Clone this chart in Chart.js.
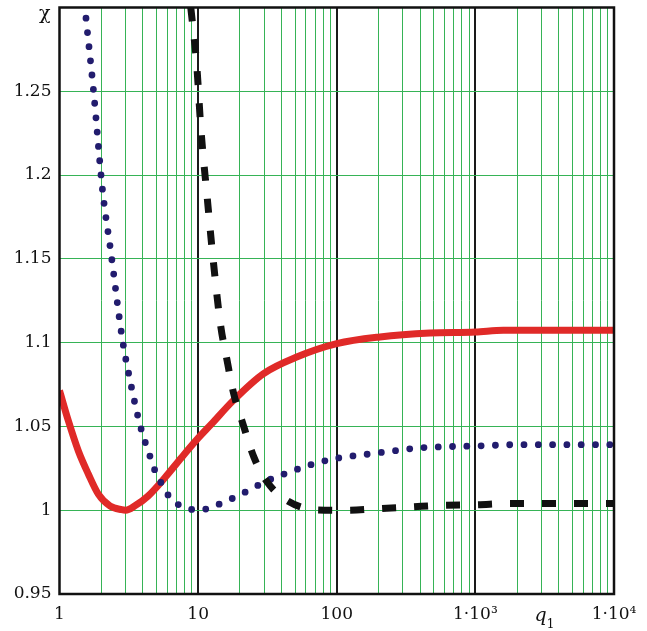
<!DOCTYPE html>
<html><head><meta charset="utf-8">
<script src="https://cdn.jsdelivr.net/npm/chart.js@4.4.1/dist/chart.umd.min.js"></script>
<style>html,body{margin:0;padding:0;background:#fff;}#wrap{width:647px;height:631px;position:relative;}</style>
</head><body><div id="wrap"><canvas id="c"></canvas></div>
<script>
// Red solid curve
const redQ   = [1, 1.157, 1.366, 1.614, 1.905, 2.31, 2.81, 3.0, 3.5, 4.37, 5.77, 7.6, 10, 12.5, 17.9, 29.5, 51.4, 100, 205, 471, 1000, 1590, 10000];
const redChi = [1.0714, 1.0535, 1.0355, 1.0216, 1.0096, 1.0026, 1.0003, 1.0, 1.0026, 1.0086, 1.0195, 1.0315, 1.043, 1.0515, 1.0654, 1.0814, 1.0914, 1.0994, 1.1034, 1.1057, 1.1063, 1.1074, 1.1074];
// Blue dotted curve
const blueQ   = [1.553, 1.754, 2.05, 2.34, 2.84, 3.26, 3.85, 4.5, 4.89, 5.55, 6.2, 7.12, 8.4, 10.4, 12.5, 15.6, 21.5, 31.3, 44.7, 67.1, 101.6, 155, 242, 382, 604, 1000, 1990, 10000];
const blueChi = [1.2936, 1.2515, 1.19, 1.1549, 1.1022, 1.0758, 1.0495, 1.0321, 1.0235, 1.0146, 1.008, 1.0036, 1.001, 1.0, 1.002, 1.005, 1.0105, 1.0175, 1.0225, 1.0275, 1.0311, 1.0331, 1.0351, 1.0371, 1.0379, 1.0383, 1.0391, 1.0391];
// Black dashed curve
const blackQ   = [8.85, 9.77, 10.49, 11.59, 12.88, 14.56, 16.09, 17.95, 20.98, 25.3, 31.3, 44.1, 72.9, 118, 206, 344, 592, 984, 1750, 10000];
const blackChi = [1.30, 1.2656, 1.2267, 1.1878, 1.1483, 1.1098, 1.0904, 1.0704, 1.0519, 1.0315, 1.0171, 1.0056, 1.0002, 1.0, 1.001, 1.002, 1.003, 1.0032, 1.004, 1.004];

// Axis ticks
const xDecades = [1, 10, 100, 1000, 10000];
const xTickLabels = ['1', '10', '100', '1\u00B710\u00B3', '1\u00B710\u2074'];
const yTickValues = [0.95, 1, 1.05, 1.1, 1.15, 1.2, 1.25, 1.3];
const yTickLabels = ['0.95', '1', '1.05', '1.1', '1.15', '1.2', '1.25', ''];
const yTitle = '\u03C7';
const xTitle = 'q';
const xTitleSub = '1';

const SERIF = '"DejaVu Serif", "Liberation Serif", serif';
const GREEN = '#36b356';

function pts(q, v) { return q.map((x, i) => ({x: x, y: v[i]})); }

const xTickValues = [];
for (let d = 0; d < xDecades.length - 1; d++) {
  for (let m = 1; m < 10; m++) xTickValues.push(xDecades[d] * m);
}
xTickValues.push(xDecades[xDecades.length - 1]);

const overlay = {
  id: 'overlay',
  afterDatasetsDraw(chart) {
    const {ctx, chartArea: a} = chart;
    ctx.save();
    ctx.strokeStyle = '#111';
    ctx.lineWidth = 2.5;
    ctx.strokeRect(a.left, a.top, a.right - a.left, a.bottom - a.top);
    ctx.fillStyle = '#111';
    ctx.textAlign = 'right';
    ctx.textBaseline = 'alphabetic';
    ctx.font = '19px ' + SERIF;
    ctx.fillText(yTitle, a.left - 9, 18.5);
    const xs = chart.scales.x;
    const px = xs.getPixelForValue(3100);
    ctx.textAlign = 'center';
    ctx.font = 'italic 19px ' + SERIF;
    ctx.fillText(xTitle, px - 3, 621);
    ctx.font = '12px ' + SERIF;
    ctx.fillText(xTitleSub, px + 7, 628);
    ctx.restore();
  }
};

new Chart(document.getElementById('c'), {
  type: 'line',
  data: {
    datasets: [
      { data: pts(blackQ, blackChi), borderColor: '#111', borderWidth: 7, borderDash: [14, 18], borderCapStyle: 'butt', pointRadius: 0, cubicInterpolationMode: 'monotone', fill: false, clip: 0 },
      { data: pts(blueQ, blueChi), borderColor: '#221c6e', borderWidth: 6.8, borderDash: [0, 14.3], borderCapStyle: 'round', pointRadius: 0, cubicInterpolationMode: 'monotone', fill: false, clip: 0 },
      { data: pts(redQ, redChi), borderColor: '#e02a28', borderWidth: 7, pointRadius: 0, cubicInterpolationMode: 'monotone', fill: false, clip: 0 }
    ]
  },
  options: {
    responsive: true,
    maintainAspectRatio: false,
    animation: false,
    layout: { padding: { left: 0, right: 33, top: 7.5, bottom: 0 } },
    plugins: { legend: { display: false }, tooltip: { enabled: false } },
    scales: {
      x: {
        type: 'logarithmic',
        min: 1, max: 10000,
        afterBuildTicks(s) { s.ticks = xTickValues.map(v => ({value: v})); },
        afterFit(s) { s.height = 37; s.paddingLeft = 0; s.paddingRight = 0; },
        ticks: {
          autoSkip: false, maxRotation: 0, padding: 10,
          color: '#111', font: { family: SERIF, size: 17 },
          callback(v) { const i = xDecades.indexOf(v); return i >= 0 ? xTickLabels[i] : ''; }
        },
        grid: {
          drawTicks: false,
          color(c) { const v = c.tick && c.tick.value; return (v === 10 || v === 100 || v === 1000) ? '#1a1a1a' : GREEN; },
          lineWidth(c) { const v = c.tick && c.tick.value; return (v === 10 || v === 100 || v === 1000) ? 2 : 1; }
        },
        border: { display: false }
      },
      y: {
        min: 0.95, max: 1.3,
        afterBuildTicks(s) { s.ticks = yTickValues.map(v => ({value: v})); },
        afterFit(s) { s.width = 59.5; s.paddingTop = 0; s.paddingBottom = 0; },
        ticks: {
          padding: 8, color: '#111', font: { family: SERIF, size: 17 },
          callback(v, i) { return yTickLabels[i]; }
        },
        grid: { drawTicks: false, color: GREEN, lineWidth: 1 },
        border: { display: false }
      }
    }
  },
  plugins: [overlay]
});
</script>
</body></html>
